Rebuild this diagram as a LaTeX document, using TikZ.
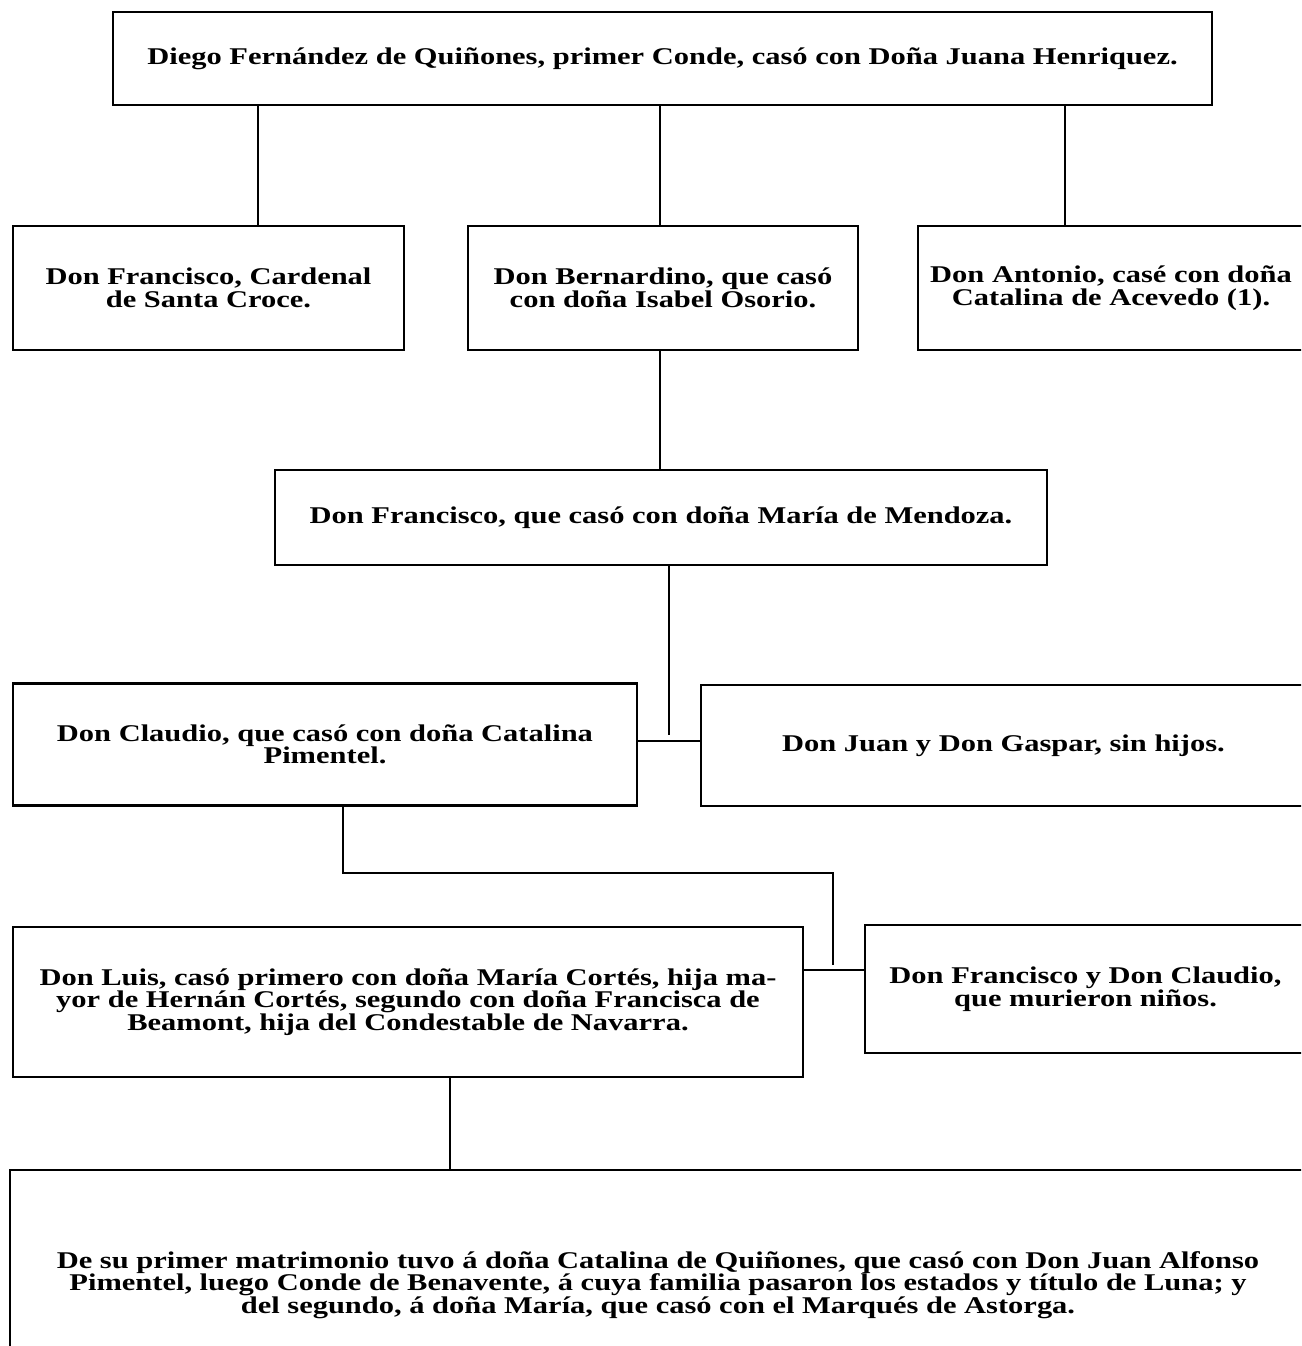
\documentclass[tikz,border=0pt]{standalone}
\usepackage{fontspec}
\setmainfont{Liberation Serif}[FakeStretch=1.27]
\begin{document}
\begin{tikzpicture}[x=1pt,y=-1pt,
  box/.style={draw, line width=2.6pt, inner sep=0pt, align=center,
    font=\fontsize{24}{22.5}\selectfont\bfseries},
  conn/.style={line width=1.8pt}]
\useasboundingbox (0,0) rectangle (1301,1346);
\clip (0,0) rectangle (1301,1346);
% boxes
\node[box, minimum width=1099pt, minimum height=93pt] (top) at (662.5,58.5)
  {Diego Fernández de Quiñones, primer Conde, casó con Doña Juana Henriquez.};
\node[box, minimum width=391pt, minimum height=124pt] (A) at (208.5,288)
  {Don Francisco, Cardenal\\de Santa Croce.};
\node[box, minimum width=390pt, minimum height=124pt] (B) at (663,288)
  {Don Bernardino, que casó\\con doña Isabel Osorio.};
\node[box, minimum width=386pt, minimum height=124pt] (C) at (1111,288)
  {Don Antonio, casé con doña\\Catalina de Acevedo (1).};
\node[box, minimum width=772pt, minimum height=95pt] (D) at (661,517.5)
  {Don Francisco, que casó con doña María de Mendoza.};
\node[box, minimum width=624pt, minimum height=122pt] (E) at (325,744.5)
  {Don Claudio, que casó con doña Catalina\\Pimentel.};
\node[box, minimum width=605pt, minimum height=121pt] (F) at (1003.5,745.5)
  {Don Juan y Don Gaspar, sin hijos.};
\node[box, minimum width=790pt, minimum height=150pt] (G) at (408,1002)
  {Don Luis, casó primero con doña María Cortés, hija ma-\\yor de Hernán Cortés, segundo con doña Francisca de\\Beamont, hija del Condestable de Navarra.};
\node[box, minimum width=441pt, minimum height=128pt] (H) at (1085.5,989)
  {Don Francisco y Don Claudio,\\que murieron niños.};
\node[box, minimum width=1296pt, minimum height=230pt] (I) at (658,1285)
  {De su primer matrimonio tuvo á doña Catalina de Quiñones, que casó con Don Juan Alfonso\\Pimentel, luego Conde de Benavente, á cuya familia pasaron los estados y título de Luna; y\\del segundo, á doña María, que casó con el Marqués de Astorga.};
% connector helper coordinates
\coordinate (cA) at (258,0);
\coordinate (cB) at (660,0);
\coordinate (cC) at (1065,0);
\coordinate (j1) at (669,741);
\coordinate (k1) at (343,873);
\coordinate (j2) at (833,970);
\coordinate (cG) at (450,0);
% connectors
\draw[conn] (cA |- top.south) -- (cA |- A.north);
\draw[conn] (cB |- top.south) -- (cB |- B.north);
\draw[conn] (cC |- top.south) -- (cC |- C.north);
\draw[conn] (cB |- B.south) -- (cB |- D.north);
\draw[conn] (j1 |- D.south) -- ([yshift=6pt]j1);
\draw[conn] (E.east |- j1) -- (F.west |- j1);
\draw[conn] (k1 |- E.south) -- (k1) -- (k1 -| j2) -- ([yshift=5pt]j2);
\draw[conn] (G.east |- j2) -- (H.west |- j2);
\draw[conn] (cG |- G.south) -- (cG |- I.north);
\end{tikzpicture}
\end{document}
